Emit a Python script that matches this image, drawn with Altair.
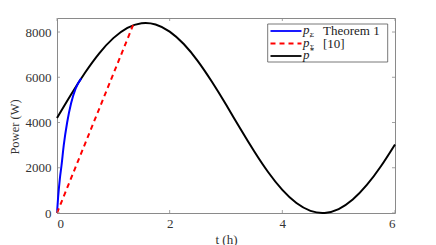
import altair as alt
import pandas as pd

# p* (black)
t_star = [0, 0.25, 0.5, 0.75, 1.0, 1.25, 1.5, 1.75, 2.0, 2.25, 2.5, 2.75, 3.0,
          3.25, 3.5, 3.75, 4.0, 4.25, 4.5, 4.75, 5.0, 5.25, 5.5, 5.75, 6.0]
p_star = [4200, 5240, 6210, 7060, 7730, 8185, 8390, 8335, 8020, 7470, 6715, 5800, 4795,
          3745, 2730, 1800, 1020, 440, 95, 5, 175, 595, 1240, 2065, 3030]

# p_Sigma Theorem 1 (blue)
t_blue = [0, 0.02, 0.05, 0.08, 0.12, 0.18, 0.25, 0.33, 0.43]
p_blue = [0, 700, 1500, 2100, 3000, 4000, 4850, 5500, 5950]

# p'_Sigma [10] (red dashed)
t_red = [0, 1.35]
p_red = [0, 8300]

x_ticks = [0, 2, 4, 6]
y_ticks = [0, 2000, 4000, 6000, 8000]

W, H = 338, 195
FONT = "Liberation Serif"
GRAY = "#8a8a8a"

xs = alt.Scale(domain=[0, 6], nice=False, zero=False)
ys = alt.Scale(domain=[0, 8620], nice=False)

df_star = pd.DataFrame({"t": t_star, "p": p_star})
df_blue = pd.DataFrame({"t": t_blue, "p": p_blue})
df_red = pd.DataFrame({"t": t_red, "p": p_red})
df_xt = pd.DataFrame({"t": x_ticks})
df_yt = pd.DataFrame({"p": y_ticks})

xax = alt.Axis(values=x_ticks, format="d", domain=False, ticks=False, grid=False,
               labelFont=FONT, labelFontSize=13, labelColor="#333", labelPadding=4,
               title="t (h)", titleFont=FONT, titleFontSize=13, titleFontWeight="normal",
               titleColor="#333", titleX=W / 2, titleY=26, titleBaseline="middle",
               titleAlign="center")
yax = alt.Axis(values=y_ticks, format="d", domain=False, ticks=False, grid=False,
               labelFont=FONT, labelFontSize=13, labelColor="#333", labelPadding=6,
               title="Power (W)", titleFont=FONT, titleFontSize=12.5,
               titleFontWeight="normal", titleColor="#333", titleX=-43,
               titleY=H / 2 + 11, titleAngle=-90, titleBaseline="middle",
               titleAlign="center")

base_star = alt.Chart(df_star).mark_line(color="black", strokeWidth=2,
                                         interpolate="natural").encode(
    x=alt.X("t:Q", scale=xs, axis=xax),
    y=alt.Y("p:Q", scale=ys, axis=yax))
blue = alt.Chart(df_blue).mark_line(color="#0000ff", strokeWidth=2,
                                    interpolate="monotone").encode(
    x=alt.X("t:Q", scale=xs), y=alt.Y("p:Q", scale=ys))
red = alt.Chart(df_red).mark_line(color="#ff0000", strokeWidth=2,
                                  strokeDash=[5, 4]).encode(
    x=alt.X("t:Q", scale=xs), y=alt.Y("p:Q", scale=ys))

tk = dict(color=GRAY, strokeWidth=0.8)
tb = alt.Chart(df_xt).mark_rule(**tk).encode(x=alt.X("t:Q", scale=xs),
                                             y=alt.value(H), y2=alt.value(H - 3))
tt = alt.Chart(df_xt).mark_rule(**tk).encode(x=alt.X("t:Q", scale=xs),
                                             y=alt.value(0), y2=alt.value(3))
tl = alt.Chart(df_yt).mark_rule(**tk).encode(y=alt.Y("p:Q", scale=ys),
                                             x=alt.value(0), x2=alt.value(3))
tr = alt.Chart(df_yt).mark_rule(**tk).encode(y=alt.Y("p:Q", scale=ys),
                                             x=alt.value(W), x2=alt.value(W - 3))

one = pd.DataFrame({"k": [0]})
lx0, lx1, ly0, ly1 = 210.7, 330.7, 6, 44
box = alt.Chart(one).mark_rect(fill="white", stroke="#555", strokeWidth=0.8).encode(
    x=alt.value(lx0), x2=alt.value(lx1), y=alt.value(ly0), y2=alt.value(ly1))
rows = [13, 25.5, 38]
sym = []
for yy, col, dash in zip(rows, ["#0000ff", "#ff0000", "black"], [None, [5, 4], None]):
    kw = dict(color=col, strokeWidth=1.8)
    if dash:
        kw["strokeDash"] = dash
    sym.append(alt.Chart(one).mark_rule(**kw).encode(
        x=alt.value(213.5), x2=alt.value(244.5), y=alt.value(yy)))

def txt(s, x, y, size=13, style="normal"):
    return alt.Chart(one).mark_text(text=s, font=FONT, fontSize=size, fontStyle=style,
                                    align="left", baseline="middle",
                                    color="#222").encode(x=alt.value(x), y=alt.value(y))

labels = [
    txt("p", 246, rows[0] - 1, style="italic"),
    txt("Σ", 253, rows[0] + 3.5, size=7),
    txt("Theorem 1", 266, rows[0]),
    txt("p", 246, rows[1] - 1, style="italic"),
    txt("′", 252.5, rows[1] - 4.5, size=10),
    txt("Σ", 253, rows[1] + 3.5, size=7),
    txt("[10]", 266, rows[1]),
    txt("p", 246, rows[2] - 1, style="italic"),
    txt("*", 253, rows[2] - 4, size=8),
]

chart = alt.layer(base_star, blue, red, tb, tt, tl, tr, box, *sym, *labels).properties(
    width=W, height=H,
    autosize=alt.AutoSizeParams(type="none"),
    padding={"left": 49, "top": 10, "right": 33, "bottom": 32},
).configure_view(stroke=GRAY, strokeWidth=1)

chart.save("out.html", embed_options={"renderer": "svg", "actions": False})
